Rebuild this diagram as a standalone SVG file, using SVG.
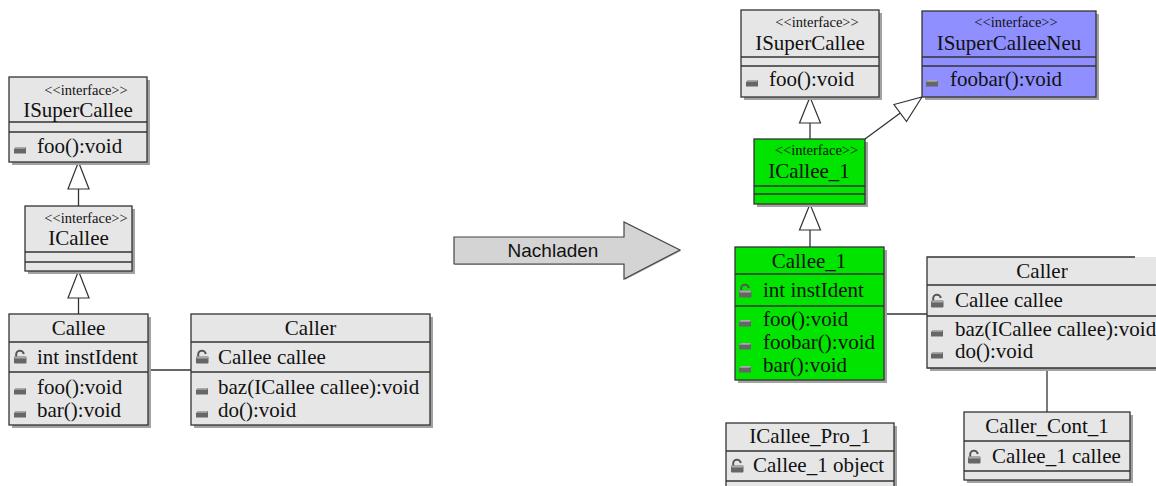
<svg xmlns="http://www.w3.org/2000/svg" xmlns:xlink="http://www.w3.org/1999/xlink" width="1156" height="486" viewBox="0 0 1156 486">
<style>
.bg{fill:#ffffff}
.sh{fill:#a2a2a2}
.box{fill:#e6e6e6;stroke:#333;stroke-width:1.3}
.grn{fill:#00e400;stroke:#333;stroke-width:1.3}
.blu{fill:#8f8fff;stroke:#333;stroke-width:1.3}
.ln{stroke:#333;stroke-width:1.3;fill:none}
.tri{fill:#ffffff;stroke:#333;stroke-width:1.2}
.t{font-family:"Liberation Serif","Times New Roman",serif;font-size:21px;fill:#111}
.st{font-family:"Liberation Serif","Times New Roman",serif;font-size:14.5px;fill:#111;text-anchor:middle}
.c{text-anchor:middle}
.arr{fill:#d4d4d4;stroke:#444;stroke-width:1.2}
.at{font-family:"Liberation Sans",Arial,sans-serif;font-size:19px;fill:#111;text-anchor:middle}
</style>
<defs>
<g id="mi">
<path d="M0,2 L2,0 H12 V6.5 H0 Z" fill="#666"/>
<path d="M0,2 L2,0 H12 L11,1.8 H1.3 Z" fill="#aaa"/>
</g>
<g id="lk">
<path d="M2.2,7 V5 A3.8,3.8 0 0 1 9.8,4" fill="none" stroke="#555" stroke-width="2"/>
<rect x="0" y="6.5" width="12.5" height="7" rx="1" fill="#666"/>
<rect x="0.5" y="6.5" width="11.5" height="2" fill="#aaa"/>
</g>
</defs>
<rect class="bg" x="0" y="0" width="1156" height="486"/>

<g id="connectors">
<line class="ln" x1="78.5" y1="189" x2="78.5" y2="206"/>
<polygon class="tri" points="78.5,162 68,189 89,189"/>
<line class="ln" x1="78.5" y1="298" x2="78.5" y2="314"/>
<polygon class="tri" points="78.5,271 68,298 89,298"/>
<line class="ln" x1="148" y1="370" x2="191" y2="370"/>
<line class="ln" x1="810" y1="123" x2="810" y2="139"/>
<polygon class="tri" points="810,97 799.5,123 820.5,123"/>
<line class="ln" x1="810" y1="230" x2="810" y2="247"/>
<polygon class="tri" points="810,204 799.5,230 820.5,230"/>
<line class="ln" x1="865" y1="139" x2="900.3" y2="113"/>
<polygon class="tri" points="922,97 906.5,121.5 894,104.5"/>
<line class="ln" x1="884" y1="314" x2="927" y2="314"/>
<line class="ln" x1="1047" y1="368" x2="1047" y2="412"/>
</g>

<g id="arrow-nachladen">
<polygon points="455,238 625,238 625,223 681,251 625,280 625,265 455,265" fill="#b0b0b0"/>
<polygon class="arr" points="454,237 624,237 624,222 680,250 624,279 624,264 454,264"/>
<text class="at" x="553" y="257">Nachladen</text>
</g>

<g id="ISuperCallee-left">
<rect class="sh" x="12" y="80" width="138" height="85"/>
<rect class="box" x="9" y="77" width="138" height="85"/>
<line class="ln" x1="9" y1="122" x2="147" y2="122"/>
<line class="ln" x1="9" y1="132" x2="147" y2="132"/>
<text class="st" x="86" y="95">&lt;&lt;interface&gt;&gt;</text>
<text class="t c" x="78" y="117">ISuperCallee</text>
<use xlink:href="#mi" x="14" y="147"/>
<text class="t" x="37" y="153">foo():void</text>
</g>

<g id="ICallee-left">
<rect class="sh" x="28" y="209" width="107" height="65"/>
<rect class="box" x="25" y="206" width="107" height="65"/>
<line class="ln" x1="25" y1="252" x2="132" y2="252"/>
<line class="ln" x1="25" y1="262" x2="132" y2="262"/>
<text class="st" x="86" y="223">&lt;&lt;interface&gt;&gt;</text>
<text class="t c" x="78.5" y="245">ICallee</text>
</g>

<g id="Callee-left">
<rect class="sh" x="12" y="317" width="139" height="111"/>
<rect class="box" x="9" y="314" width="139" height="111"/>
<line class="ln" x1="9" y1="342" x2="148" y2="342"/>
<line class="ln" x1="9" y1="372" x2="148" y2="372"/>
<text class="t c" x="78.5" y="335">Callee</text>
<use xlink:href="#lk" x="14" y="350"/>
<text class="t" x="37" y="364">int instIdent</text>
<use xlink:href="#mi" x="14" y="388"/>
<text class="t" x="37" y="394">foo():void</text>
<use xlink:href="#mi" x="14" y="411"/>
<text class="t" x="37" y="417">bar():void</text>
</g>

<g id="Caller-left">
<rect class="sh" x="194" y="317" width="239" height="111"/>
<rect class="box" x="191" y="314" width="239" height="111"/>
<line class="ln" x1="191" y1="342" x2="430" y2="342"/>
<line class="ln" x1="191" y1="372" x2="430" y2="372"/>
<text class="t c" x="310.5" y="335">Caller</text>
<use xlink:href="#lk" x="196" y="350"/>
<text class="t" x="218" y="364">Callee callee</text>
<use xlink:href="#mi" x="196" y="388"/>
<text class="t" x="218" y="394">baz(ICallee callee):void</text>
<use xlink:href="#mi" x="196" y="411"/>
<text class="t" x="218" y="417">do():void</text>
</g>

<g id="ISuperCallee-right">
<rect class="sh" x="744" y="13" width="138" height="87"/>
<rect class="box" x="741" y="10" width="138" height="87"/>
<line class="ln" x1="741" y1="57" x2="879" y2="57"/>
<line class="ln" x1="741" y1="66" x2="879" y2="66"/>
<text class="st" x="817" y="27">&lt;&lt;interface&gt;&gt;</text>
<text class="t c" x="810" y="50">ISuperCallee</text>
<use xlink:href="#mi" x="746" y="80"/>
<text class="t" x="769" y="86">foo():void</text>
</g>

<g id="ISuperCalleeNeu">
<rect class="sh" x="925" y="14" width="174" height="86"/>
<rect class="blu" x="922" y="11" width="174" height="86"/>
<line class="ln" x1="922" y1="57" x2="1096" y2="57"/>
<line class="ln" x1="922" y1="66" x2="1096" y2="66"/>
<text class="st" x="1016" y="27">&lt;&lt;interface&gt;&gt;</text>
<text class="t c" x="1009" y="50">ISuperCalleeNeu</text>
<use xlink:href="#mi" x="926" y="80"/>
<text class="t" x="950" y="86">foobar():void</text>
</g>

<g id="ICallee_1">
<rect class="sh" x="757" y="142" width="111" height="65"/>
<rect class="grn" x="754" y="139" width="111" height="65"/>
<line class="ln" x1="754" y1="186" x2="865" y2="186"/>
<line class="ln" x1="754" y1="194" x2="865" y2="194"/>
<text class="st" x="816.5" y="155">&lt;&lt;interface&gt;&gt;</text>
<text class="t c" x="809" y="178">ICallee_1</text>
</g>

<g id="Callee_1">
<rect class="sh" x="738" y="250" width="149" height="133"/>
<rect class="grn" x="735" y="247" width="149" height="133"/>
<line class="ln" x1="735" y1="274" x2="884" y2="274"/>
<line class="ln" x1="735" y1="306" x2="884" y2="306"/>
<text class="t c" x="809" y="268">Callee_1</text>
<use xlink:href="#lk" x="739" y="284"/>
<text class="t" x="763" y="297">int instIdent</text>
<use xlink:href="#mi" x="739" y="320"/>
<text class="t" x="763" y="326">foo():void</text>
<use xlink:href="#mi" x="739" y="343"/>
<text class="t" x="763" y="349">foobar():void</text>
<use xlink:href="#mi" x="739" y="366"/>
<text class="t" x="763" y="372">bar():void</text>
</g>

<g id="Caller-right">
<rect class="sh" x="930" y="260" width="240" height="111"/>
<rect x="927" y="257" width="240" height="111" fill="#e6e6e6"/>
<path class="ln" d="M1135,257 H927 V368 H1160 M927,285 H1160 M927,316 H1160"/>
<text class="t c" x="1042" y="278">Caller</text>
<use xlink:href="#lk" x="931" y="294"/>
<text class="t" x="955" y="307">Callee callee</text>
<use xlink:href="#mi" x="931" y="330"/>
<text class="t" x="955" y="336">baz(ICallee callee):void</text>
<use xlink:href="#mi" x="931" y="352"/>
<text class="t" x="955" y="358">do():void</text>
</g>

<g id="ICallee_Pro_1">
<rect class="sh" x="729" y="426" width="168" height="80"/>
<rect class="box" x="726" y="423" width="168" height="80"/>
<line class="ln" x1="726" y1="451" x2="894" y2="451"/>
<line class="ln" x1="726" y1="481" x2="894" y2="481"/>
<text class="t c" x="810" y="443">ICallee_Pro_1</text>
<use xlink:href="#lk" x="731" y="459"/>
<text class="t" x="753" y="472">Callee_1 object</text>
</g>

<g id="Caller_Cont_1">
<rect class="sh" x="967" y="415" width="166" height="68"/>
<rect class="box" x="964" y="412" width="166" height="68"/>
<line class="ln" x1="964" y1="441" x2="1130" y2="441"/>
<line class="ln" x1="964" y1="471" x2="1130" y2="471"/>
<text class="t c" x="1047" y="433">Caller_Cont_1</text>
<use xlink:href="#lk" x="968" y="450"/>
<text class="t" x="992" y="463">Callee_1 callee</text>
</g>
</svg>
